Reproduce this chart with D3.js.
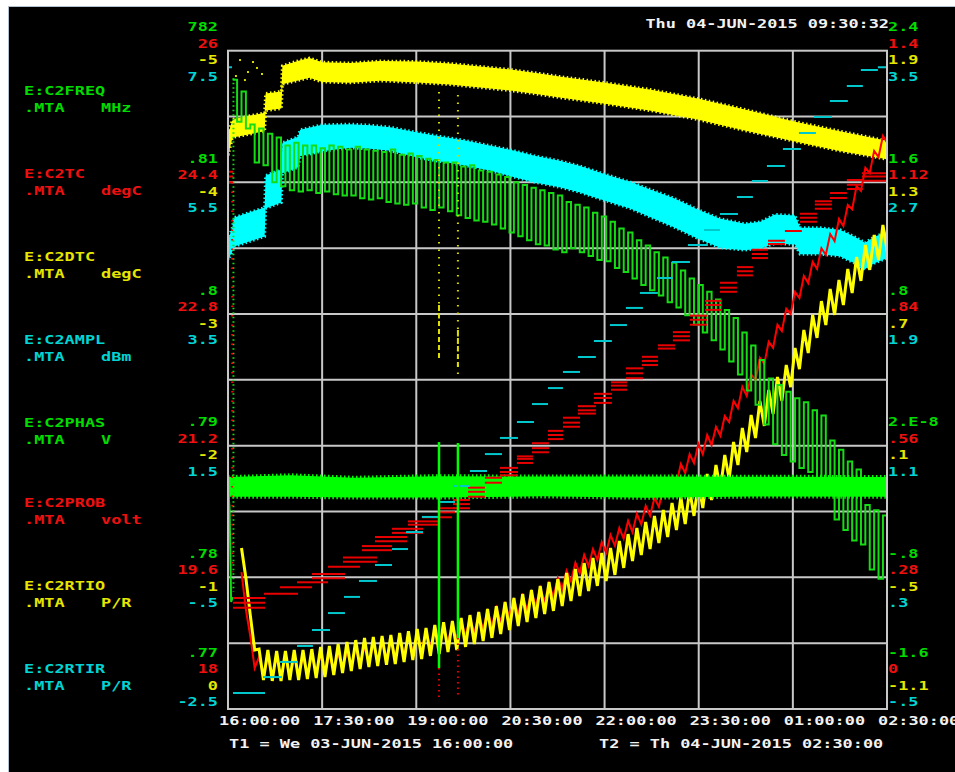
<!DOCTYPE html>
<html><head><meta charset="utf-8">
<script src="https://cdn.jsdelivr.net/npm/d3@7"></script>
<style>
html,body{margin:0;padding:0;background:#fff;}
svg{display:block;}
</style></head><body>
<svg id="c" width="955" height="772"></svg>
<script>
// ---------------- DATA ----------------
const seriesNames = ['E:C2FREQ','E:C2TC','E:C2DTC','E:C2AMPL','E:C2PHAS','E:C2PROB','E:C2RTIO','E:C2RTIR'];
const seriesUnits = ['MHz','degC','degC','dBm','V','volt','P/R','P/R'];
const titleText = 'Thu 04-JUN-2015 09:30:32';
const t1Text = 'T1 = We 03-JUN-2015 16:00:00';
const t2Text = 'T2 = Th 04-JUN-2015 02:30:00';
const timeTickMinutes = [0, 90, 180, 270, 360, 450, 540, 630];
const timeTickLabels = ['16:00:00','17:30:00','19:00:00','20:30:00','22:00:00','23:30:00','01:00:00','02:30:00'];

// left axes
const freqTicks = [.82,.81,.80,.79,.78,.77];  const freqTickLabels = ['782','.81','.8','.79','.78','.77'];
const tcTicks = [26,24.4,22.8,21.2,19.6,18];  const tcTickLabels = ['26','24.4','22.8','21.2','19.6','18'];
const dtcTicks = [-5,-4,-3,-2,-1,0];          const dtcTickLabels = ['-5','-4','-3','-2','-1','0'];
const amplTicks = [7.5,5.5,3.5,1.5,-.5,-2.5]; const amplTickLabels = ['7.5','5.5','3.5','1.5','-.5','-2.5'];
// right axes
const phasTicks = [2.4,1.6,.8,0,-.8,-1.6];    const phasTickLabels = ['2.4','1.6','.8','2.E-8','-.8','-1.6'];
const probTicks = [1.4,1.12,.84,.56,.28,0];   const probTickLabels = ['1.4','1.12','.84','.56','.28','0'];
const rtioTicks = [1.9,1.3,.7,.1,-.5,-1.1];   const rtioTickLabels = ['1.9','1.3','.7','.1','-.5','-1.1'];
const rtirTicks = [3.5,2.7,1.9,1.1,.3,-.5];   const rtirTickLabels = ['3.5','2.7','1.9','1.1','.3','-.5'];

// sampling clock of the oscillating traces (minutes after T1)
const oscStartMin = 4.5, oscStepMin = 4.2;

// E:C2FREQ (MHz) – oscillating green trace
const freqValues = [.8178,.8146,.8169,.8141,.8144,.8115,.8141,.8113,.8137,.8100,
.8134,.8097,.8128,.8094,.8130,.8093,.8128,.8094,.8128,.8092,
.8126,.8093,.8128,.8091,.8127,.8090,.8125,.8090,.8127,.8088,
.8125,.8087,.8124,.8088,.8123,.8085,.8125,.8084,.8121,.8083,
.8122,.8084,.8120,.8081,.8118,.8079,.8117,.8081,.8115,.8078,
.8115,.8075,.8112,.8073,.8113,.8071,.8109,.8070,.8108,.8068,
.8106,.8065,.8104,.8062,.8100,.8059,.8098,.8056,.8096,.8053,
.8094,.8052,.8092,.8049,.8090,.8047,.8085,.8050,.8083,.8047,
.8081,.8044,.8077,.8041,.8074,.8040,.8070,.8035,.8065,.8032,
.8062,.8027,.8056,.8022,.8052,.8018,.8047,.8014,.8043,.8009,
.8039,.8005,.8033,.7999,.8027,.7992,.8022,.7986,.8017,.7980,
.8011,.7973,.8003,.7964,.7997,.7954,.7986,.7942,.7976,.7931,
.7965,.7916,.7951,.7901,.7946,.7893,.7941,.7888,.7936,.7883,
.7933,.7880,.7927,.7875,.7923,.7872,.7904,.7844,.7897,.7836,
.7888,.7828,.7882,.7825,.7855,.7806,.7851,.7799,.7847,.7802];

// E:C2PROB (volt) – oscillating red trace
const probValues = [null,null,.291,.211,.155,.087,.111,.070,.109,.070,
.109,.070,.109,.070,.109,.072,.111,.074,.113,.077,
.115,.079,.115,.083,.119,.087,.123,.091,.128,.096,
.132,.100,.136,.104,.140,.109,.145,.113,.149,.117,
.153,.121,.157,.126,.164,.132,.168,.136,.174,.143,
.181,.149,.187,.155,.194,.162,.200,.170,.208,.177,
.215,.185,.223,.194,.232,.202,.240,.211,.249,.219,
.257,.228,.266,.238,.279,.255,.294,.272,.311,.289,
.328,.304,.340,.317,.355,.332,.370,.347,.385,.362,
.400,.376,.415,.393,.432,.411,.449,.430,.470,.453,
.496,.479,.521,.502,.542,.523,.564,.542,.583,.561,
.600,.581,.623,.610,.655,.640,.685,.666,.712,.700,
.747,.734,.781,.768,.817,.804,.851,.840,.887,.874,
.921,.906,.951,.936,.980,.966,1.010,.995,1.042,1.027,
1.072,1.063,1.112,1.102,1.151,1.140,1.187,1.174,1.219,1.204];

// E:C2RTIO (P/R) – oscillating yellow trace
const rtioValues = [null,null,-.366,-.503,-.672,-.831,-.827,-.968,-.831,-.972,
-.836,-.972,-.836,-.968,-.831,-.968,-.831,-.963,-.827,-.959,
-.817,-.954,-.813,-.945,-.804,-.936,-.795,-.927,-.786,-.918,
-.776,-.909,-.772,-.904,-.767,-.899,-.763,-.895,-.754,-.886,
-.745,-.877,-.735,-.872,-.731,-.858,-.717,-.849,-.704,-.840,
-.699,-.831,-.685,-.817,-.672,-.804,-.658,-.790,-.644,-.776,
-.631,-.758,-.612,-.740,-.594,-.722,-.576,-.704,-.558,-.685,
-.539,-.667,-.521,-.653,-.508,-.631,-.480,-.608,-.462,-.585,
-.435,-.562,-.412,-.539,-.389,-.517,-.366,-.489,-.334,-.457,
-.303,-.426,-.275,-.398,-.248,-.371,-.220,-.344,-.193,-.316,
-.161,-.284,-.134,-.257,-.102,-.220,-.066,-.184,-.029,-.148,
.012,-.102,.058,-.052,.117,.012,.181,.071,.240,.135,
.304,.190,.354,.244,.413,.304,.468,.367,.545,.449,
.627,.522,.696,.591,.759,.650,.814,.696,.855,.741,
.905,.796,.960,.851,1.015,.901,1.060,.946,1.106,.983];

// noisy bands: [minute, centre, half-thickness]
const amplBand = [[0,4.473,.15],[4,4.625,.18],[6,4.746,.22],[35,4.898,.22],[36,5.354,.25],[51,5.445,.25],
[52,5.870,.23],[67,5.961,.23],[69,6.098,.2],[90,6.174,.2],[117,6.204,.18],[136,6.189,.18],[155,6.159,.18],
[181,6.068,.19],[203,6.007,.19],[227,5.946,.19],[250,5.870,.19],[270,5.794,.2],[293,5.703,.2],[317,5.627,.2],
[336,5.551,.2],[359,5.430,.2],[384,5.308,.2],[403,5.187,.21],[427,5.035,.22],[449,4.868,.22],[470,4.731,.22],
[494,4.670,.2],[509,4.700,.2],[523,4.792,.22],[542,4.777,.22],[547,4.609,.2],[566,4.609,.2],[585,4.579,.2],
[599,4.473,.2],[609,4.382,.2],[618,4.473,.2],[630,4.549,.2]];
const dtcBand = [[0,-4.284,.08],[4,-4.398,.07],[6,-4.413,.07],[35,-4.458,.07],[36,-4.610,.065],[51,-4.626,.065],
[52,-4.815,.07],[69,-4.853,.075],[78,-4.869,.075],[90,-4.838,.075],[117,-4.831,.075],[145,-4.846,.075],
[181,-4.838,.08],[212,-4.823,.08],[241,-4.800,.08],[270,-4.777,.08],[298,-4.747,.08],[317,-4.724,.08],
[359,-4.679,.08],[403,-4.626,.08],[449,-4.557,.08],[494,-4.474,.08],[540,-4.390,.075],[585,-4.314,.075],[630,-4.246,.07]];
const phasBand = [[0,-.251,.06],[60,-.245,.065],[120,-.255,.06],[200,-.250,.065],[300,-.248,.06],
[400,-.252,.065],[500,-.249,.06],[630,-.250,.06]];
const phasStart = [[0,-.251],[1.5,-.379],[3,-.950],[4.5,-.92]];

// stepped traces: [startMinute, endMinute, levels]
const tcSteps = [[0,4.8,[24.53,24.47,24.40]],[4.8,35.4,[19.35,19.29,19.23]],[34.4,66.9,[19.40]],[49.7,80.3,[19.48]],
[66.0,95.6,[19.54]],[80.3,111.8,[19.64,19.59]],[95.6,126.2,[19.73]],[109.9,142.4,[19.84,19.79]],
[128.1,156.8,[19.98,19.93]],[140.5,171.1,[20.09,20.04]],[156.8,186.4,[20.19,20.14]],[172.1,200.7,[20.28,20.24]],
[185.4,214.1,[20.33]],[200.7,217.0,[20.44,20.39]],[215.1,231.3,[20.54,20.49,20.44]],[229.4,245.6,[20.69,20.64,20.58]],
[245.6,261.9,[20.81,20.75]],[260.0,277.2,[20.93,20.88,20.84]],[276.2,291.5,[21.07,21.04,20.99]],
[290.6,306.8,[21.23,21.17,21.12]],[305.9,320.2,[21.38,21.33,21.28]],[320.2,336.5,[21.54,21.48,21.43]],
[334.5,351.7,[21.68,21.63,21.59]],[349.8,367.0,[21.83,21.78,21.72]],[366.1,381.4,[21.97,21.93,21.88]],
[380.4,396.7,[22.14,22.08,22.02]],[395.7,411.0,[22.28,22.23,22.18]],[411.0,427.3,[22.42,22.38]],
[425.3,441.6,[22.58,22.53,22.48]],[441.6,457.8,[22.78,22.73,22.67]],[455.9,472.2,[22.96,22.91,22.85]],
[470.3,486.5,[23.18,23.12,23.07]],[486.5,501.8,[23.37,23.32,23.27]],[500.8,516.2,[23.58,23.53,23.48]],
[516.2,532.4,[23.69,23.65]],[532.4,548.6,[23.81]],[546.7,563.0,[24.02,23.97,23.92]],
[561.0,577.3,[24.17,24.13,24.08]],[575.4,591.6,[24.27,24.21]],[591.6,606.9,[24.43,24.37,24.32]],
[606.0,630.0,[24.51,24.47,24.42]]];
const rtirSteps = [[0,3.8,3.40],[4.8,35.4,-.403],[33.5,51.6,-.306],[49.7,66.9,-.214],[66.0,81.2,-.117],
[80.3,97.5,-.020],[95.6,111.8,.083],[110.9,126.2,.181],[125.2,142.4,.278],[140.5,156.8,.375],
[156.8,172.1,.472],[170.1,186.4,.575],[185.4,200.7,.667],[200.7,217.0,.758],[215.1,231.3,.855],
[231.3,247.6,.946],[245.6,261.9,1.049],[260.0,277.2,1.147],[276.2,292.5,1.244],[290.6,305.9,1.353],
[305.9,320.2,1.450],[320.2,336.5,1.548],[334.5,351.7,1.639],[349.8,367.0,1.736],[365.1,381.4,1.833],
[380.4,396.7,1.937],[393.8,411.0,2.028],[410.1,425.3,2.119],[424.4,441.6,2.216],[439.7,458.8,2.319],
[455.0,470.3,2.411],[470.3,487.5,2.508],[486.5,501.8,2.611],[500.8,516.2,2.708],[515.2,532.4,2.799],
[530.5,547.7,2.903],[545.8,562.0,3.000],[560.1,577.3,3.097],[575.4,592.6,3.194],[591.6,606.9,3.285],
[605.0,621.3,3.383],[621.3,630,3.40]];

// glitches: [minute, from, to]
const phasGlitch = [[201.7,.022,-1.351],[219.8,.016,-1.169]];
const dtcGlitchDots = [[201.7,-4.686,-2.666],[219.8,-4.663,-2.537]];
const dtcGlitchSolid = [[201.7,-3.068,-2.666],[219.8,-2.879,-2.590]];
const probGlitchDots = [[201.7,.087,.023],[219.8,.151,.023]];
const freqStartDots = [[5.2,.8179,.7789]];
const probStartDots = [[4.0,1.121,.291]];
const dtcOutliers = [[7.6,-4.808],[11.5,-4.929],[16.2,-4.777],[19.1,-4.838],[23.9,-4.914],[27.7,-4.869],[32.5,-4.823]];

// ---------------- DRAW ----------------
const GREEN='#00ff00', GREEN2='#16dc16', RED='#ff0000', RED2='#e80000', YEL='#ffff00', CYAN='#00ffff', CYAN2='#00c8cc';
const TXT = {g:'#00dc00', r:'#ee1010', y:'#e6e600', c:'#00d4d4', w:'#f2f2f2'};
const CW = 10.15;
const L = 228, R = 887, Y0 = 709, Y1 = 50.7;

const T0 = new Date(2015, 5, 3, 16, 0, 0);
const toDate = m => new Date(T0.getTime() + m * 60000);
const x = d3.scaleTime().domain([toDate(0), toDate(630)]).range([L, R]);
const mk = d => d3.scaleLinear().domain(d).range([Y0, Y1]);
const freqY = mk([.77,.82]), tcY = mk([18,26]), dtcY = mk([0,-5]), amplY = mk([-2.5,7.5]);
const phasY = mk([-1.6,2.4]), probY = mk([0,1.4]), rtioY = mk([-1.1,1.9]), rtirY = mk([-.5,3.5]);
const gridY = d3.scaleLinear().domain([0,10]).range([Y0, Y1]);

const svg = d3.select('#c');
svg.append('rect').attr('x',8.5).attr('y',6.5).attr('width',947).attr('height',766)
  .attr('fill','#000').attr('stroke','#b4c2d0');

const font = sel => sel.attr('font-family','"DejaVu Sans Mono", monospace').attr('font-size','12.5px')
  .attr('font-weight','bold');
function txt(s, px, py, color, anchor) {
  return svg.append('text').call(font).attr('x',px).attr('y',py).attr('fill',color)
    .attr('text-anchor',anchor||'start').attr('textLength', s.length*CW).attr('lengthAdjust','spacingAndGlyphs').text(s);
}

// grid
const grid = svg.append('g').attr('stroke','#c8c8c8').attr('stroke-width',2);
d3.range(1,10).forEach(k => grid.append('line').attr('x1',L).attr('x2',R).attr('y1',gridY(k)).attr('y2',gridY(k)));
timeTickMinutes.slice(1,-1).forEach(m => grid.append('line').attr('x1',x(toDate(m))).attr('x2',x(toDate(m))).attr('y1',Y1).attr('y2',Y0));

// clip
svg.append('clipPath').attr('id','clip').append('rect').attr('x',L).attr('y',Y1).attr('width',R-L).attr('height',Y0-Y1);
const plot = svg.append('g').attr('clip-path','url(#clip)');

function band(data, Y, color, fringe) {
  const a = d3.area().x(d => x(toDate(d[0]))).y0(d => Y(d[1]-d[2])).y1(d => Y(d[1]+d[2]));
  plot.append('path').attr('d', a(data)).attr('fill', color)
    .attr('stroke', color).attr('stroke-width', fringe).attr('stroke-dasharray','1.5 2.5');
}
function osc(values, Y, color, w, curve) {
  const pts = values.map((v,i) => [oscStartMin + i*oscStepMin, v]);
  const ln = d3.line().defined(d => d[1] != null).x(d => x(toDate(d[0]))).y(d => Y(d[1])).curve(curve);
  plot.append('path').attr('d', ln(pts)).attr('fill','none').attr('stroke',color).attr('stroke-width',w)
    .attr('stroke-linejoin','miter');
}
function vseg(data, Y, color, w, dash) {
  data.forEach(d => plot.append('line').attr('x1',x(toDate(d[0]))).attr('x2',x(toDate(d[0])))
    .attr('y1',Y(d[1])).attr('y2',Y(d[2])).attr('stroke',color).attr('stroke-width',w)
    .attr('stroke-dasharray',dash||null));
}

band(amplBand, amplY, CYAN, 3);
band(dtcBand, dtcY, YEL, 3);
osc(probValues, probY, RED, 2, d3.curveLinear);
osc(rtioValues, rtioY, YEL, 3, d3.curveLinear);
osc(freqValues, freqY, GREEN2, 2, d3.curveStepAfter);
band(phasBand, phasY, GREEN, 4);
plot.append('path').attr('d', d3.line().x(d => x(toDate(d[0]))).y(d => phasY(d[1]))(phasStart))
  .attr('fill','none').attr('stroke',GREEN2).attr('stroke-width',2);

// stepped dashes
tcSteps.forEach(s => s[2].forEach(v => plot.append('line')
  .attr('x1',x(toDate(s[0]))).attr('x2',x(toDate(s[1]))).attr('y1',tcY(v)).attr('y2',tcY(v))
  .attr('stroke',RED2).attr('stroke-width',2)));
rtirSteps.forEach(s => plot.append('line')
  .attr('x1',x(toDate(s[0]))).attr('x2',x(toDate(s[1]))).attr('y1',rtirY(s[2])).attr('y2',rtirY(s[2]))
  .attr('stroke',CYAN2).attr('stroke-width',2));

// glitches
vseg(freqStartDots, freqY, GREEN2, 2, '1.5 3');
vseg(probStartDots, probY, RED, 2, '1.5 8');
vseg(dtcGlitchDots, dtcY, '#d8d800', 2, '1.5 6');
vseg(dtcGlitchSolid, dtcY, '#e0e000', 2, '5 3');
vseg(probGlitchDots, probY, RED2, 2, '1.5 4');
vseg(phasGlitch, phasY, GREEN, 2.5);
dtcOutliers.forEach(d => plot.append('rect').attr('x',x(toDate(d[0]))-1).attr('y',dtcY(d[1])-1)
  .attr('width',2).attr('height',2).attr('fill','#d8d800'));

// frame
svg.append('rect').attr('x',L).attr('y',Y1).attr('width',R-L).attr('height',Y0-Y1)
  .attr('fill','none').attr('stroke','#c8c8c8').attr('stroke-width',2);

// axes (label block of the bottom grid line is lifted inside the plot height)
const LIFT = -33;
function sideAxis(side, scale, vals, labels, color, off) {
  const ax = (side === 'left' ? d3.axisLeft(scale) : d3.axisRight(scale))
    .tickValues(vals).tickFormat((d,i) => labels[i]).tickSize(0).tickPadding(0);
  const g = svg.append('g').attr('transform', `translate(${side==='left'?218:888},0)`).call(ax);
  g.select('.domain').remove();
  g.selectAll('text').call(font).attr('fill',color).attr('dy',null).attr('x',0)
    .attr('y', (d,i) => off + (i === vals.length-1 ? LIFT : 0))
    .attr('textLength', function(){ return this.textContent.length*CW; }).attr('lengthAdjust','spacingAndGlyphs');
}
sideAxis('left', freqY, freqTicks, freqTickLabels, TXT.g, -20);
sideAxis('left', tcY, tcTicks, tcTickLabels, TXT.r, -3.5);
sideAxis('left', dtcY, dtcTicks, dtcTickLabels, TXT.y, 13);
sideAxis('left', amplY, amplTicks, amplTickLabels, TXT.c, 29.5);
sideAxis('right', phasY, phasTicks, phasTickLabels, TXT.g, -20);
sideAxis('right', probY, probTicks, probTickLabels, TXT.r, -3.5);
sideAxis('right', rtioY, rtioTicks, rtioTickLabels, TXT.y, 13);
sideAxis('right', rtirY, rtirTicks, rtirTickLabels, TXT.c, 29.5);

const bx = d3.axisBottom(x).tickValues(timeTickMinutes.map(toDate))
  .tickFormat((d,i) => timeTickLabels[i]).tickSize(0);
const bg = svg.append('g').attr('transform',`translate(0,${Y0})`).call(bx);
bg.select('.domain').remove();
bg.selectAll('text').call(font).attr('fill',TXT.w).attr('text-anchor','start').attr('dy',null)
  .attr('x',-9.5).attr('y',16)
  .attr('textLength', function(){ return this.textContent.length*CW; }).attr('lengthAdjust','spacingAndGlyphs');

// texts
txt(titleText, 889, 28, TXT.w, 'end');
txt(t1Text, 229, 748, TXT.w);
txt(t2Text, 599, 748, TXT.w);
const nameColors = [TXT.g, TXT.r, TXT.y, TXT.c, TXT.g, TXT.r, TXT.y, TXT.c];
const nameBase = [95,178,261,344,427,507,590,673];
seriesNames.forEach((n,i) => {
  txt(n, 24, nameBase[i], nameColors[i]);
  txt('.MTA', 24, nameBase[i]+16.5, nameColors[i]);
  txt(seriesUnits[i], 101, nameBase[i]+16.5, nameColors[i]);
});
</script></body></html>
